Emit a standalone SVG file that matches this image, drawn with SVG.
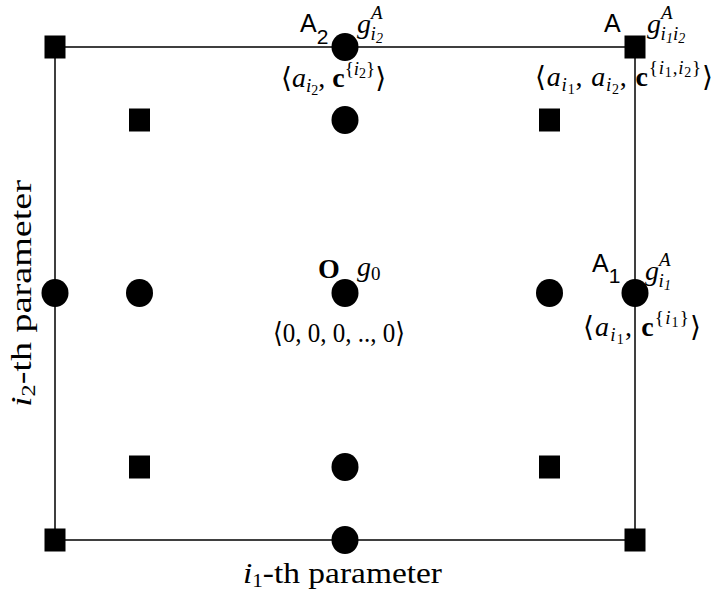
<svg xmlns="http://www.w3.org/2000/svg" width="714" height="596" viewBox="0 0 714 596">
<style>
.ln{stroke:#000;stroke-width:1.5;fill:none}
.sq{fill:#000}
.ci{fill:#000}
.m{font-family:"Liberation Serif","DejaVu Serif",serif;font-size:28px;fill:#000}
.it{font-style:italic}
.bf{font-weight:bold}
.s1{font-size:19px}
.s2{font-size:14px}
.sa{font-family:"Liberation Sans",Arial,sans-serif;font-size:25px;fill:#000}
.sas{font-size:21px}
</style>
<rect width="714" height="596" fill="#fff"/>
<g id="connectors">
<rect class="ln" x="55" y="47" width="580" height="493"/>
</g>
<g id="n-tl"><rect class="sq" x="44.5" y="35.5" width="21" height="23"/></g>
<g id="n-A2"><ellipse class="ci" cx="345" cy="47" rx="13.5" ry="14"/></g>
<g id="n-A"><rect class="sq" x="624.5" y="35.5" width="21" height="23"/></g>
<g id="n-r2c2"><rect class="sq" x="129" y="108.5" width="21" height="23"/></g>
<g id="n-r2c3"><ellipse class="ci" cx="345" cy="120" rx="13.5" ry="14"/></g>
<g id="n-r2c4"><rect class="sq" x="539" y="108.5" width="21" height="23"/></g>
<g id="n-ml"><ellipse class="ci" cx="55" cy="293" rx="13.5" ry="14"/></g>
<g id="n-m2"><ellipse class="ci" cx="139.5" cy="293" rx="13.5" ry="14"/></g>
<g id="n-O"><ellipse class="ci" cx="345" cy="293" rx="13.5" ry="14"/></g>
<g id="n-m4"><ellipse class="ci" cx="549.5" cy="293" rx="13.5" ry="14"/></g>
<g id="n-A1"><ellipse class="ci" cx="635" cy="293" rx="13.5" ry="14"/></g>
<g id="n-r4c2"><rect class="sq" x="129" y="455.5" width="21" height="23"/></g>
<g id="n-r4c3"><ellipse class="ci" cx="345" cy="467" rx="13.5" ry="14"/></g>
<g id="n-r4c4"><rect class="sq" x="539" y="455.5" width="21" height="23"/></g>
<g id="n-bl"><rect class="sq" x="44.5" y="528.5" width="21" height="23"/></g>
<g id="n-bm"><ellipse class="ci" cx="345" cy="540" rx="13.5" ry="14"/></g>
<g id="n-br"><rect class="sq" x="624.5" y="528.5" width="21" height="23"/></g>

<g id="labels">
<text class="sa" x="300" y="32">A<tspan class="sas" dy="12">2</tspan></text>
<text class="m it" x="357" y="33">g<tspan class="s1" dy="-14">A</tspan><tspan class="s1" dx="-12" dy="21">i</tspan><tspan class="s2" dy="3">2</tspan></text>
<text class="m" x="281" y="87">⟨<tspan class="it">a</tspan><tspan class="s1 it" dy="5">i</tspan><tspan class="s2" dy="3">2</tspan><tspan dy="-8">, </tspan><tspan class="bf">c</tspan><tspan class="s1" dy="-12">{</tspan><tspan class="s1 it">i</tspan><tspan class="s2" dy="3">2</tspan><tspan class="s1" dy="-3">}</tspan><tspan dy="12">⟩</tspan></text>

<text class="sa" x="604" y="32">A</text>
<text class="m it" x="647" y="33">g<tspan class="s1" dy="-14">A</tspan><tspan class="s1" dx="-12" dy="21">i</tspan><tspan class="s2" dy="3">1</tspan><tspan class="s1" dy="-3">i</tspan><tspan class="s2" dy="3">2</tspan></text>
<text class="m" x="535" y="86" textLength="178" lengthAdjust="spacing">⟨<tspan class="it">a</tspan><tspan class="s1 it" dy="5">i</tspan><tspan class="s2" dy="3">1</tspan><tspan dy="-8">, </tspan><tspan class="it">a</tspan><tspan class="s1 it" dy="5">i</tspan><tspan class="s2" dy="3">2</tspan><tspan dy="-8">, </tspan><tspan class="bf">c</tspan><tspan class="s1" dy="-12">{</tspan><tspan class="s1 it">i</tspan><tspan class="s2" dy="3">1</tspan><tspan class="s1" dy="-3">,</tspan><tspan class="s1 it">i</tspan><tspan class="s2" dy="3">2</tspan><tspan class="s1" dy="-3">}</tspan><tspan dy="12">⟩</tspan></text>

<text class="m bf" x="318" y="278">O</text>
<text class="m it" x="357" y="276">g<tspan class="s1" font-style="normal" dy="4">0</tspan></text>
<text class="m" x="273" y="342" textLength="132" lengthAdjust="spacingAndGlyphs">⟨0, 0, 0, .., 0⟩</text>

<text class="sa" x="592" y="272">A<tspan class="sas" dy="11">1</tspan></text>
<text class="m it" x="645" y="280">g<tspan class="s1" dy="-14">A</tspan><tspan class="s1" dx="-12" dy="21">i</tspan><tspan class="s2" dy="3">1</tspan></text>
<text class="m" x="583" y="336" textLength="118" lengthAdjust="spacing">⟨<tspan class="it">a</tspan><tspan class="s1 it" dy="5">i</tspan><tspan class="s2" dy="3">1</tspan><tspan dy="-8">, </tspan><tspan class="bf">c</tspan><tspan class="s1" dy="-12">{</tspan><tspan class="s1 it">i</tspan><tspan class="s2" dy="3">1</tspan><tspan class="s1" dy="-3">}</tspan><tspan dy="12">⟩</tspan></text>

<text class="m" x="243" y="583" textLength="199" lengthAdjust="spacingAndGlyphs" style="font-size:30px"><tspan class="it">i</tspan><tspan class="s1" dy="4">1</tspan><tspan dy="-4">-th parameter</tspan></text>
<text class="m" transform="translate(31,407) rotate(-90)" textLength="227" lengthAdjust="spacingAndGlyphs" style="font-size:30px"><tspan class="it">i</tspan><tspan class="s1" dy="4">2</tspan><tspan dy="-4">-th parameter</tspan></text>
</g>
</svg>
